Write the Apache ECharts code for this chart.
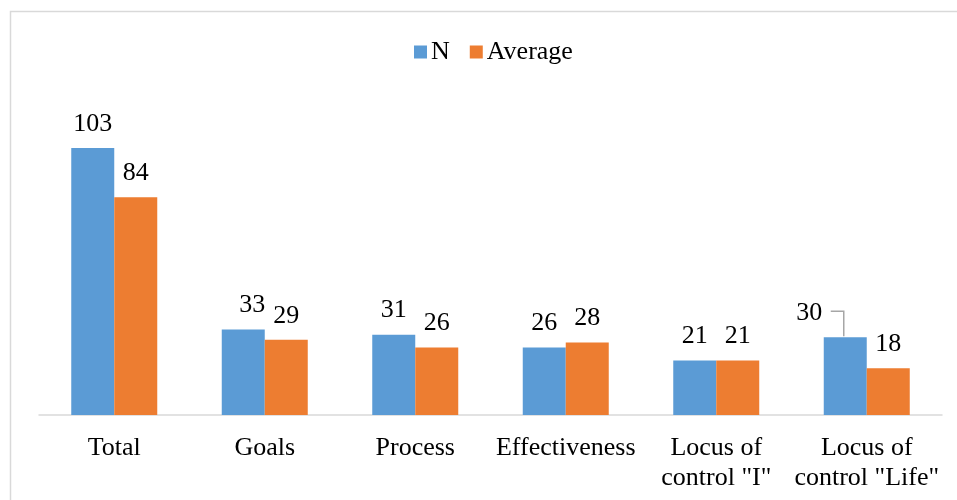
<!DOCTYPE html>
<html>
<head>
<meta charset="utf-8">
<script src="https://cdn.jsdelivr.net/npm/echarts@6/dist/echarts.min.js"></script>
<style>
html,body{margin:0;padding:0;background:#fff;}
#main{width:957px;height:500px;}
</style>
</head>
<body>
<div id="main"></div>
<script>
const categories = ['Total', 'Goals', 'Process', 'Effectiveness', 'Locus of\ncontrol "I"', 'Locus of\ncontrol "Life"'];
const seriesN = [103, 33, 31, 26, 21, 30];
const seriesAvg = [84, 29, 26, 28, 21, 18];
const calloutIndex = 5;

const chart = echarts.init(document.getElementById('main'));
const font = 'Liberation Serif, Times New Roman, serif';
const FS = 26;
const BW = 43;

chart.setOption({
  backgroundColor: '#fff',
  animation: false,
  textStyle: { fontFamily: font },
  graphic: [{
    type: 'rect', silent: true, z: -1,
    shape: { x: 10.5, y: 11.5, width: 960, height: 500 },
    style: { fill: 'none', stroke: '#d9d9d9', lineWidth: 1.5 }
  }],
  legend: {
    top: 34, left: 409,
    itemWidth: 13, itemHeight: 13, itemGap: 20,
    icon: 'rect',
    textStyle: { fontFamily: font, fontSize: FS, color: '#000', padding: [0, 0, 0, -1] },
    data: ['N', 'Average']
  },
  grid: { left: 39, right: 15, top: 104, bottom: 85 },
  xAxis: {
    type: 'category', data: categories,
    axisLine: { lineStyle: { color: '#d9d9d9', width: 1.5 } },
    axisTick: { show: false },
    axisLabel: { fontFamily: font, fontSize: FS, color: '#000', margin: 18, lineHeight: 30, interval: 0 }
  },
  yAxis: {
    type: 'value', min: 0, max: 120, show: false,
    splitLine: { show: false }
  },
  series: [{
    name: 'N', type: 'bar', data: seriesN,
    barGap: '0%', barWidth: BW,
    itemStyle: { color: '#5B9BD5' },
    label: { show: true, position: 'top', distance: 11, fontFamily: font, fontSize: FS, color: '#000' },
    labelLayout: function (p) {
      if (p.dataIndex === calloutIndex) {
        return { dx: -36, dy: 0 };
      }
      if (p.dataIndex === 1) {
        return { dx: 9 };
      }
      return {};
    }
  }, {
    name: 'Average', type: 'bar', data: seriesAvg, barWidth: BW,
    itemStyle: { color: '#ED7D31' },
    label: { show: true, position: 'top', distance: 11, fontFamily: font, fontSize: FS, color: '#000' }
  }, {
    type: 'custom', silent: true, z: 5,
    data: [[calloutIndex, seriesN[calloutIndex]]],
    renderItem: function (params, api) {
      const p = api.coord([api.value(0), api.value(1)]);
      const x = p[0] - BW / 2 - 1.5;
      const y = p[1];
      return {
        type: 'polyline',
        shape: { points: [[x, y - 1], [x, y - 26], [x - 13, y - 26]] },
        style: { stroke: '#a6a6a6', lineWidth: 1.5, fill: 'none' }
      };
    }
  }]
});
</script>
</body>
</html>
